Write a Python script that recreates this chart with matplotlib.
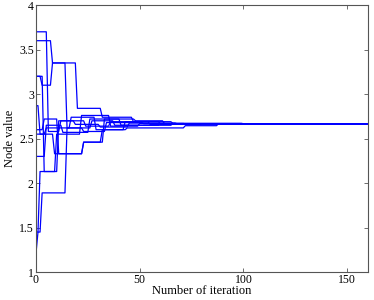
import numpy as np
import matplotlib.pyplot as plt

plt.rcParams['font.family'] = ['Liberation Serif', 'DejaVu Serif']

n_iter = 160

# breakpoints per node: (iteration, value); value is held until the next breakpoint
nodes = [
    [(0, 3.70), (6, 2.58), (12, 2.70), (24, 2.64), (36, 2.69), (55, 2.66), (80, 2.667)],
    [(0, 3.60), (8, 3.35), (20, 2.84), (32, 2.74), (47, 2.69), (66, 2.672), (100, 2.667)],
    [(0, 3.20), (3, 3.10), (8, 3.35), (15, 2.62), (27, 2.70), (38, 2.65), (60, 2.667)],
    [(0, 1.20), (1, 1.45), (3, 1.89), (15, 2.62), (23, 2.58), (34, 2.68), (52, 2.667)],
    [(0, 3.20), (4, 2.13), (10, 2.55), (22, 2.76), (36, 2.64), (50, 2.67), (72, 2.667)],
    [(0, 2.87), (2, 2.55), (9, 2.33), (23, 2.46), (33, 2.72), (48, 2.70), (62, 2.667)],
    [(0, 2.60), (4, 2.72), (11, 2.33), (23, 2.46), (32, 2.60), (44, 2.62), (72, 2.645), (88, 2.667)],
    [(0, 2.55), (5, 2.62), (17, 2.74), (29, 2.60), (43, 2.69), (60, 2.666)],
    [(0, 1.45), (2, 2.13), (11, 2.70), (19, 2.66), (31, 2.63), (45, 2.675), (68, 2.667)],
    [(0, 2.30), (5, 2.65), (13, 2.57), (26, 2.72), (41, 2.65), (66, 2.668), (96, 2.667)],
]

xticks = [0, 50, 100, 150]
yticks = [1, 1.5, 2, 2.5, 3, 3.5, 4]

fig = plt.figure(figsize=(3.74, 3.0), dpi=100)
ax = fig.add_axes([0.096, 0.093, 0.888, 0.89])

it = np.arange(n_iter + 1)
for bp in nodes:
    vals = np.empty(len(it))
    for k, (start, v) in enumerate(bp):
        vals[start:] = v
    ax.plot(it, vals, color='#0000ff', linewidth=0.9)

ax.set_xlim(0, n_iter)
ax.set_ylim(1, 4)
ax.set_xticks(xticks)
ax.set_yticks(yticks)
ax.set_yticklabels(['1', '1.5', '2', '2.5', '3', '3.5', '4'])
ax.tick_params(direction='in', top=True, right=True, labelsize=8.5,
               length=3, width=0.6, pad=1.5, color='#555555')
for s in ax.spines.values():
    s.set_color('#555555')
    s.set_linewidth(0.8)
ax.set_xlabel('Number of iteration', fontsize=9, labelpad=-1)
ax.set_ylabel('Node value', fontsize=9, labelpad=2)

fig.savefig('out.png', dpi=100)
